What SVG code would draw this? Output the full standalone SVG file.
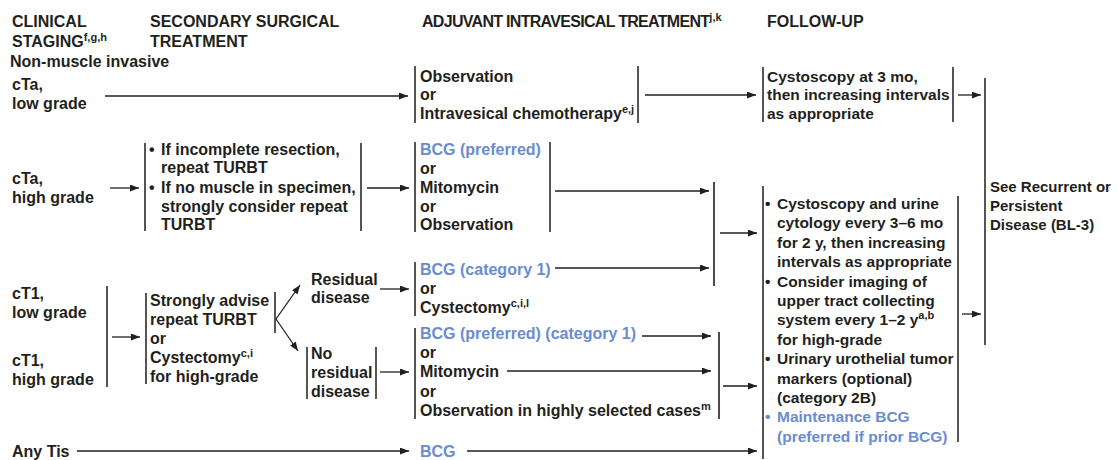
<svg xmlns="http://www.w3.org/2000/svg" width="1117" height="460" viewBox="0 0 1117 460">
<style>
text{font-family:"Liberation Sans",Arial,Helvetica,sans-serif;font-weight:bold;font-size:16px;fill:#231f20}
.fu{font-size:15.5px}
.sm{font-size:15px}
.blue{fill:#6b8ccf}
.sup{font-size:11px}
.br{stroke:#2b2b2b;stroke-width:1.6;fill:none}
.ar{stroke:#231f20;stroke-width:1.3;fill:none;marker-end:url(#ah)}
.ln{stroke:#231f20;stroke-width:1.6;fill:none}
</style>
<defs>
<marker id="ah" markerWidth="9" markerHeight="7" refX="9" refY="3.5" orient="auto" markerUnits="userSpaceOnUse">
<path d="M0,0 L9,3.5 L0,7 z" fill="#231f20"/>
</marker>
</defs>
<rect width="1117" height="460" fill="#ffffff"/>

<g id="headers">
<text x="12" y="27">CLINICAL</text>
<text x="12" y="47">STAGING<tspan class="sup" dy="-6">f,g,h</tspan></text>
<text x="150" y="27">SECONDARY SURGICAL</text>
<text x="150" y="47">TREATMENT</text>
<text x="422" y="27" letter-spacing="-0.7">ADJUVANT INTRAVESICAL TREATMENT<tspan class="sup" dy="-6" letter-spacing="0">j,k</tspan></text>
<text x="767" y="27">FOLLOW-UP</text>
<text x="10" y="67">Non-muscle invasive</text>
</g>

<g id="n-cta-low">
<text x="12" y="90">cTa,</text>
<text x="12" y="109">low grade</text>
</g>

<g id="n-obs">
<line class="br" x1="415" y1="66" x2="415" y2="123"/>
<line class="br" x1="638" y1="66" x2="638" y2="123"/>
<text x="420" y="82">Observation</text>
<text x="420" y="100">or</text>
<text x="420" y="119">Intravesical chemotherapy<tspan class="sup" dy="-6">e,j</tspan></text>
</g>

<g id="n-cysto3">
<line class="br" x1="763" y1="67" x2="763" y2="122"/>
<line class="br" x1="953" y1="67" x2="953" y2="122"/>
<text class="fu" x="767" y="82">Cystoscopy at 3 mo,</text>
<text class="fu" x="767" y="100">then increasing intervals</text>
<text class="fu" x="767" y="119">as appropriate</text>
</g>

<g id="n-see">
<line class="br" x1="985" y1="78" x2="985" y2="345"/>
<text class="sm" x="990" y="192">See Recurrent or</text>
<text class="sm" x="990" y="211">Persistent</text>
<text class="sm" x="990" y="230">Disease (BL-3)</text>
</g>

<g id="n-cta-high">
<text x="12" y="184">cTa,</text>
<text x="12" y="203">high grade</text>
</g>

<g id="n-sec1">
<line class="br" x1="145" y1="143" x2="145" y2="231"/>
<line class="br" x1="361" y1="143" x2="361" y2="231"/>
<text x="149" y="155">•</text>
<text x="161" y="155">If incomplete resection,</text>
<text x="161" y="173">repeat TURBT</text>
<text x="149" y="193">•</text>
<text x="161" y="193">If no muscle in specimen,</text>
<text x="161" y="212">strongly consider repeat</text>
<text x="161" y="230">TURBT</text>
</g>

<g id="n-adj1">
<line class="br" x1="415" y1="142" x2="415" y2="232"/>
<line class="br" x1="550" y1="142" x2="550" y2="232"/>
<text class="blue" x="420" y="155">BCG (preferred)</text>
<text x="420" y="174">or</text>
<text x="420" y="193">Mitomycin</text>
<text x="420" y="212">or</text>
<text x="420" y="230">Observation</text>
</g>

<g id="n-ct1">
<line class="br" x1="107" y1="286" x2="107" y2="387"/>
<text x="12" y="299">cT1,</text>
<text x="12" y="318">low grade</text>
<text x="12" y="366">cT1,</text>
<text x="12" y="385">high grade</text>
</g>

<g id="n-sec2">
<line class="br" x1="146" y1="293" x2="146" y2="384"/>
<line class="br" x1="275" y1="292" x2="275" y2="333"/>
<text x="150" y="306">Strongly advise</text>
<text x="150" y="325">repeat TURBT</text>
<text x="150" y="344">or</text>
<text x="150" y="363">Cystectomy<tspan class="sup" dy="-6">c,i</tspan></text>
<text x="150" y="382">for high-grade</text>
</g>

<g id="n-residual">
<text x="311" y="285">Residual</text>
<text x="311" y="303">disease</text>
</g>

<g id="n-noresidual">
<line class="br" x1="307" y1="347" x2="307" y2="399"/>
<line class="br" x1="376" y1="347" x2="376" y2="399"/>
<text x="311" y="359">No</text>
<text x="311" y="378">residual</text>
<text x="311" y="397">disease</text>
</g>

<g id="n-adj2">
<line class="br" x1="415" y1="262" x2="415" y2="316"/>
<text class="blue" x="420" y="275">BCG (category 1)</text>
<text x="420" y="294">or</text>
<text x="420" y="313">Cystectomy<tspan class="sup" dy="-6">c,i,l</tspan></text>
</g>

<g id="n-adj3">
<line class="br" x1="415" y1="328" x2="415" y2="419"/>
<text class="blue" x="420" y="339">BCG (preferred) (category 1)</text>
<text x="420" y="358">or</text>
<text x="420" y="377">Mitomycin</text>
<text x="420" y="397">or</text>
<text x="420" y="416">Observation in highly selected cases<tspan class="sup" dy="-6">m</tspan></text>
</g>

<g id="n-tis">
<text x="12" y="457">Any Tis</text>
</g>

<g id="n-bcg">
<text class="blue" x="420" y="457">BCG</text>
</g>

<g id="n-followup">
<line class="br" x1="763" y1="186" x2="763" y2="459"/>
<line class="br" x1="958" y1="196" x2="958" y2="442"/>
<text class="fu" x="765" y="209">•</text>
<text class="fu" x="777" y="209">Cystoscopy and urine</text>
<text class="fu" x="777" y="228">cytology every 3–6 mo</text>
<text class="fu" x="777" y="248">for 2 y, then increasing</text>
<text class="fu" x="777" y="267">intervals as appropriate</text>
<text class="fu" x="765" y="287">•</text>
<text class="fu" x="777" y="287">Consider imaging of</text>
<text class="fu" x="777" y="306">upper tract collecting</text>
<text class="fu" x="777" y="325">system every 1–2 y<tspan class="sup" dy="-6">a,b</tspan></text>
<text class="fu" x="777" y="345">for high-grade</text>
<text class="fu" x="765" y="364">•</text>
<text class="fu" x="777" y="364">Urinary urothelial tumor</text>
<text class="fu" x="777" y="384">markers (optional)</text>
<text class="fu" x="777" y="403">(category 2B)</text>
<text class="fu blue" x="765" y="422">•</text>
<text class="fu blue" x="777" y="422">Maintenance BCG</text>
<text class="fu blue" x="777" y="442">(preferred if prior BCG)</text>
</g>

<g id="connectors">
<line class="ar" x1="105" y1="96" x2="408" y2="96"/>
<line class="ar" x1="645" y1="95" x2="756" y2="95"/>
<line class="ar" x1="958" y1="95" x2="981" y2="95"/>
<line class="ar" x1="110" y1="188" x2="139" y2="188"/>
<line class="ar" x1="367" y1="188" x2="409" y2="188"/>
<line class="ar" x1="555" y1="191" x2="709" y2="191"/>
<line class="ln" x1="714" y1="182" x2="714" y2="286"/>
<line class="ar" x1="720" y1="233" x2="757" y2="233"/>
<line class="ar" x1="112" y1="337" x2="140" y2="337"/>
<line class="ar" x1="276" y1="319" x2="300" y2="285"/>
<line class="ar" x1="276" y1="319" x2="298" y2="351"/>
<line class="ar" x1="380" y1="289" x2="409" y2="289"/>
<line class="ar" x1="555" y1="268" x2="709" y2="268"/>
<line class="ar" x1="380" y1="372" x2="409" y2="372"/>
<line class="ar" x1="642" y1="336" x2="711" y2="336"/>
<line class="ar" x1="507" y1="371" x2="711" y2="371"/>
<line class="ln" x1="719" y1="332" x2="719" y2="419"/>
<line class="ar" x1="723" y1="386" x2="757" y2="386"/>
<line class="ar" x1="77" y1="451" x2="409" y2="451"/>
<line class="ar" x1="467" y1="451" x2="757" y2="451"/>
<line class="ar" x1="962" y1="314" x2="981" y2="314"/>
</g>
</svg>
